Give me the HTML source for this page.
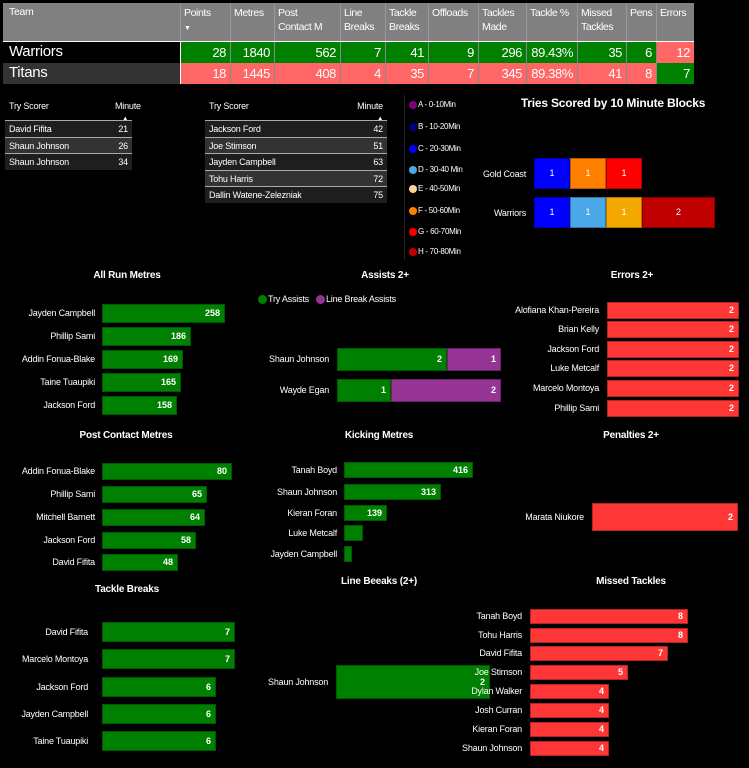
<!DOCTYPE html>
<html><head><meta charset="utf-8"><style>
body{margin:0;width:749px;height:768px;background:#000;position:relative;overflow:hidden;font-family:"Liberation Sans",sans-serif;color:#fff;}
div{position:absolute;box-sizing:border-box}
.t{font-size:10px;font-weight:bold;transform:translateX(-50%);white-space:nowrap;top:0;letter-spacing:-0.2px}
.l{font-size:9px;text-align:right;white-space:nowrap;height:12px;line-height:12px;letter-spacing:-0.2px}
.b{border:1px solid rgba(0,0,0,.3);font-size:9px;font-weight:bold;text-align:right;padding-right:4px}
.g{background:#008000}.r{background:#ff3636}.p{background:#963496}
</style></head><body>
<div style="left:3px;top:3px;width:691px;height:38px;background:#808080"></div>
<div style="left:3px;top:41px;width:691px;height:1px;background:#fff"></div>
<div style="left:3px;top:42px;width:177px;height:21px;background:#000"></div>
<div style="left:3px;top:63px;width:177px;height:21px;background:#333"></div>
<div style="left:9px;top:43px;font-size:15px;letter-spacing:-0.3px">Warriors</div>
<div style="left:9px;top:64px;font-size:15px;letter-spacing:-0.3px">Titans</div>
<div style="left:404px;top:95px;width:1px;height:165px;background:#222"></div>
<div class="t" style="left:613px;top:96px;font-size:12px">Tries Scored by 10 Minute Blocks</div>
<script>
const H=(h)=>document.body.insertAdjacentHTML('beforeend',h);
const cols=[[180,"Points"],[230,"Metres"],[274,"Post<br>Contact M"],[340,"Line<br>Breaks"],[385,"Tackle<br>Breaks"],[428,"Offloads"],[478,"Tackles<br>Made"],[526,"Tackle %"],[577,"Missed<br>Tackles"],[626,"Pens"],[656,"Errors"],[694,""]];
H(`<div style="left:9px;top:6px;font-size:10.5px;letter-spacing:-0.3px">Team</div>`);
const r1=["28","1840","562","7","41","9","296","89.43%","35","6","12"];
const r2=["18","1445","408","4","35","7","345","89.38%","41","8","7"];
for(let i=0;i<11;i++){const x=cols[i][0],w=cols[i+1][0]-x;
H(`<div style="left:${x}px;top:3px;width:${w}px;height:38px;border-left:1px solid #999;padding:3px 3px;font-size:10.5px;letter-spacing:-0.4px;line-height:14px;white-space:nowrap">${cols[i][1]}${i==0?'<br><span style="font-size:7px;line-height:14px">▼</span>':''}</div>`);
const c1=i==10?'#ff6666':'#008000',c2=i==10?'#008000':'#ff6666';
H(`<div style="left:${x}px;top:42px;width:${w}px;height:21px;background:${c1};border-left:1px solid #888;text-align:right;padding-right:4px;font-size:13px;letter-spacing:-0.4px;line-height:21px">${r1[i]}</div>`);
H(`<div style="left:${x}px;top:63px;width:${w}px;height:21px;background:${c2};border-left:1px solid #888;text-align:right;padding-right:4px;font-size:13px;letter-spacing:-0.4px;line-height:21px">${r2[i]}</div>`);}
H(`<div style="left:180px;top:42px;width:1px;height:42px;background:#fff"></div>`);
function tt(x,w,sep,rows){H(`<div style="left:${x+4}px;top:101px;font-size:9px;letter-spacing:-0.2px">Try Scorer</div><div style="left:${x+sep}px;top:101px;width:${w-sep-4}px;text-align:right;font-size:9px;letter-spacing:-0.2px;line-height:11px">Minute<br><span style="font-size:6px">▲</span></div>`);
rows.forEach((r,i)=>{const y=121+i*16.5;H(`<div style="left:${x}px;top:${y-1}px;width:${w}px;height:1px;background:#aaa"></div><div style="left:${x}px;top:${y}px;width:${w}px;height:16px;background:${i%2?'#333':'#1e1e1e'};font-size:9px;letter-spacing:-0.2px;line-height:16px;padding-left:4px">${r[0]}<span style="position:absolute;right:4px">${r[1]}</span></div>`)});}
tt(5,127,110,[["David Fifita",21],["Shaun Johnson",26],["Shaun Johnson",34]]);
tt(205,182,140,[["Jackson Ford",42],["Joe Stimson",51],["Jayden Campbell",63],["Tohu Harris",72],["Dallin Watene-Zelezniak",75]]);
[["A - 0-10Min","#800080",105],["B - 10-20Min","#000080",127],["C - 20-30Min","#0000ff",149],["D - 30-40 Min","#4aa8e8",170],["E - 40-50Min","#ffd0a0",189],["F - 50-60Min","#ff8000",211],["G - 60-70Min","#ff0000",232],["H - 70-80Min","#c00000",252]].forEach(a=>H(`<div style="left:409px;top:${a[2]-4}px;width:8px;height:8px;border-radius:50%;background:${a[1]}"></div><div style="left:418px;top:${a[2]-6}px;font-size:8px;letter-spacing:-0.3px;line-height:12px">${a[0]}</div>`));
H(`<div class="l" style="right:223px;top:168px">Gold Coast</div><div class="l" style="right:223px;top:207px">Warriors</div>`);
[[158,534,36,"#0000ff",1],[158,570,36,"#ff8000",1],[158,606,36,"#ff0000",1],[197,534,36,"#0000ff",1],[197,570,36,"#4aa8e8",1],[197,606,36,"#f5a800",1],[197,642,73,"#c00000",2]].forEach(s=>H(`<div style="left:${s[1]}px;top:${s[0]}px;width:${s[2]}px;height:31px;background:${s[3]};border:1px solid rgba(0,0,0,.3);font-size:9px;text-align:center;line-height:29px">${s[4]}</div>`));
function bars(lx,x0,h,items){items.forEach(it=>{const [n,v,x1,cy]=it;H(`<div class="l" style="right:${749-lx}px;top:${cy-6}px">${n}</div><div class="b ${it[4]||'g'}" style="left:${x0}px;top:${cy-h/2}px;width:${x1-x0}px;height:${h}px;line-height:${h-2}px">${v}</div>`)});}
function title(t,x,y){H(`<div class="t" style="left:${x}px;top:${y-7}px">${t}</div>`);}
title("All Run Metres",127,277);title("Assists 2+",385,277);title("Errors 2+",632,277);
title("Post Contact Metres",126,437);title("Kicking Metres",379,437);title("Penalties 2+",631,437);
title("Tackle Breaks",127,591);title("Line Beeaks (2+)",379,583);title("Missed Tackles",631,583);
bars(95,102,19,[["Jayden Campbell",258,225,313],["Phillip Sami",186,191,336],["Addin Fonua-Blake",169,183,359],["Taine Tuaupiki",165,181,382],["Jackson Ford",158,177,405]]);
bars(599,607,17,[["Alofiana Khan-Pereira",2,739,310],["Brian Kelly",2,739,329],["Jackson Ford",2,739,349],["Luke Metcalf",2,739,368],["Marcelo Montoya",2,739,388],["Phillip Sami",2,739,408]].map(a=>[...a,'r']));
H(`<div style="left:258px;top:295px;width:9px;height:9px;border-radius:50%;background:#008000"></div><div style="left:268px;top:293px;font-size:9px;letter-spacing:-0.2px;line-height:12px">Try Assists</div><div style="left:316px;top:295px;width:9px;height:9px;border-radius:50%;background:#963496"></div><div style="left:326px;top:293px;font-size:9px;letter-spacing:-0.2px;line-height:12px">Line Break Assists</div>`);
H(`<div class="l" style="right:420px;top:353px">Shaun Johnson</div><div class="l" style="right:420px;top:384px">Wayde Egan</div>`);
[[348,337,110,"g",2],[348,447,54,"p",1],[379,337,54,"g",1],[379,391,110,"p",2]].forEach(s=>H(`<div class="b ${s[3]}" style="left:${s[1]}px;top:${s[0]}px;width:${s[2]}px;height:23px;line-height:21px">${s[4]}</div>`));
bars(95,102,17,[["Addin Fonua-Blake",80,232,471],["Phillip Sami",65,207,494],["Mitchell Barnett",64,205,517],["Jackson Ford",58,196,540],["David Fifita",48,178,562]]);
bars(337,344,16,[["Tanah Boyd",416,473,470],["Shaun Johnson",313,441,492],["Kieran Foran",139,387,513],["Luke Metcalf","",363,533],["Jayden Campbell","",352,554]]);
bars(584,592,28,[["Marata Niukore",2,738,517,'r']]);
bars(88,102,20,[["David Fifita",7,235,632],["Marcelo Montoya",7,235,659],["Jackson Ford",6,216,687],["Jayden Campbell",6,216,714],["Taine Tuaupiki",6,216,741]]);
bars(328,336,34,[["Shaun Johnson",2,490,682]]);
bars(522,530,15,[["Tanah Boyd",8,688,616],["Tohu Harris",8,688,635],["David Fifita",7,668,653],["Joe Stimson",5,628,672],["Dylan Walker",4,609,691],["Josh Curran",4,609,710],["Kieran Foran",4,609,729],["Shaun Johnson",4,609,748]].map(a=>[...a,'r']));
</script>
</body></html>
